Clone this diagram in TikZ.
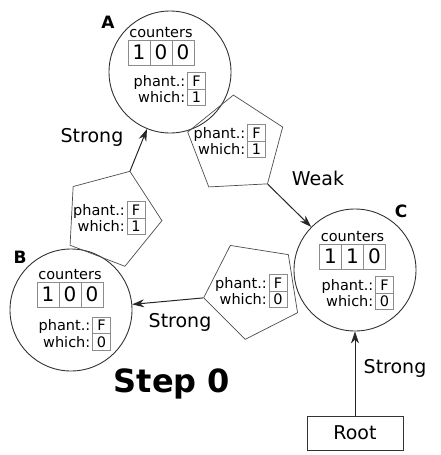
\documentclass[tikz,border=0pt]{standalone}
\usepackage{fontspec}
\setmainfont{DejaVu Sans}
\usetikzlibrary{arrows.meta}
\usetikzlibrary{calc}
\usetikzlibrary{positioning}
\usetikzlibrary{shapes.geometric}

\begin{document}
\begin{tikzpicture}[
        x=1pt, y=-1pt,
        font=\fontsize{14.5}{17}\selectfont,
        state/.style={circle, draw=black!80, line width=0.9pt, minimum size=122pt, inner sep=0pt},
        penta/.style={regular polygon, regular polygon sides=5, draw=black!70, line width=0.7pt, minimum size=100pt, inner sep=0pt},
        cell/.style={draw=black!45, line width=0.7pt, minimum width=22pt, minimum height=25pt, inner sep=0pt, outer sep=0pt, font=\fontsize{20}{24}\selectfont},
        flag/.style={draw=black!45, line width=0.7pt, minimum width=18pt, minimum height=16.5pt, inner sep=0pt, outer sep=0pt},
        tag/.style={anchor=base, inner sep=0pt, font=\fontsize{17}{20}\selectfont\bfseries},
        lbl/.style={anchor=base, inner sep=0pt, font=\fontsize{19}{22}\selectfont},
        ref/.style={->, >={Stealth[length=12pt, width=8pt]}, line width=1pt, black!85}
    ]
        \useasboundingbox (0,0) rectangle (440,455);

        % --- Macros para el contenido de los nodos ---
        % contadores: nombre, centro de la celda central, tres valores
        \def\counters#1#2#3#4#5{
            \node[cell] (#1-c2) at #2 {#4};
            \node[cell, left=0pt of #1-c2] (#1-c1) {#3};
            \node[cell, right=0pt of #1-c2] (#1-c3) {#5};
            \node[anchor=base, inner sep=0pt] (#1-title) at ([yshift=3pt]#1-c2.north) {counters};
        }
        % banderas: nombre, centro de la caja F, valor de which
        \def\flags#1#2#3{
            \node[flag] (#1-phant) at #2 {F};
            \node[flag, below=0pt of #1-phant] (#1-which) {#3};
            \node[anchor=base east, inner sep=0pt] at ([xshift=-2pt]#1-phant.base west) {phant.:};
            \node[anchor=base east, inner sep=0pt] at ([xshift=-2pt]#1-which.base west) {which:};
        }

        % --- Objetos (circulos) ---
        \node[state] (A) at (170,72) {};
        \counters{A}{(161,52.5)}{1}{0}{0}
        \flags{A}{(196.5,81)}{1}
        \node[tag] at (108,28) {A};

        \node[state] (B) at (71,310) {};
        \counters{B}{(70,294.5)}{1}{0}{0}
        \flags{B}{(101.5,325.5)}{0}
        \node[tag] at (20,263) {B};

        \node[state] (C) at (355,270) {};
        \counters{C}{(352.5,256.5)}{1}{1}{0}
        \flags{C}{(384.5,285)}{0}
        \node[tag] at (401,217) {C};

        % --- Punteros (pentagonos) ---
        \node[penta, shape border rotate=3] (ptrAC) at (236,145) {};
        \flags{ptrAC}{(256.5,133)}{1}

        \node[penta, shape border rotate=-21] (ptrBA) at (112,218) {};
        \flags{ptrBA}{(136,210)}{1}

        \node[penta, shape border rotate=27] (ptrCB) at (253,290) {};
        \flags{ptrCB}{(278,283)}{0}

        % --- Raiz ---
        \node[draw=black!80, line width=0.7pt, minimum width=96pt, minimum height=34pt, font=\fontsize{19}{22}\selectfont] (root) at (355,433) {Root};

        % --- Referencias ---
        \draw[ref] (ptrBA.corner 1) -- (A);
        \draw[ref] (ptrAC.corner 4) -- (C);
        \draw[ref] (ptrCB.corner 2) -- (B);
        \draw[ref] (root) -- (C);

        % Etiquetas de las referencias
        \node[lbl] at (92,142) {Strong};
        \node[lbl] at (318,185) {Weak};
        \node[lbl] at (180,327) {Strong};
        \node[lbl] at (395,373) {Strong};

        \node[anchor=base, inner sep=0pt, font=\fontsize{32}{38}\selectfont\bfseries] at (172,392) {Step 0};

    \end{tikzpicture}
\end{document}
